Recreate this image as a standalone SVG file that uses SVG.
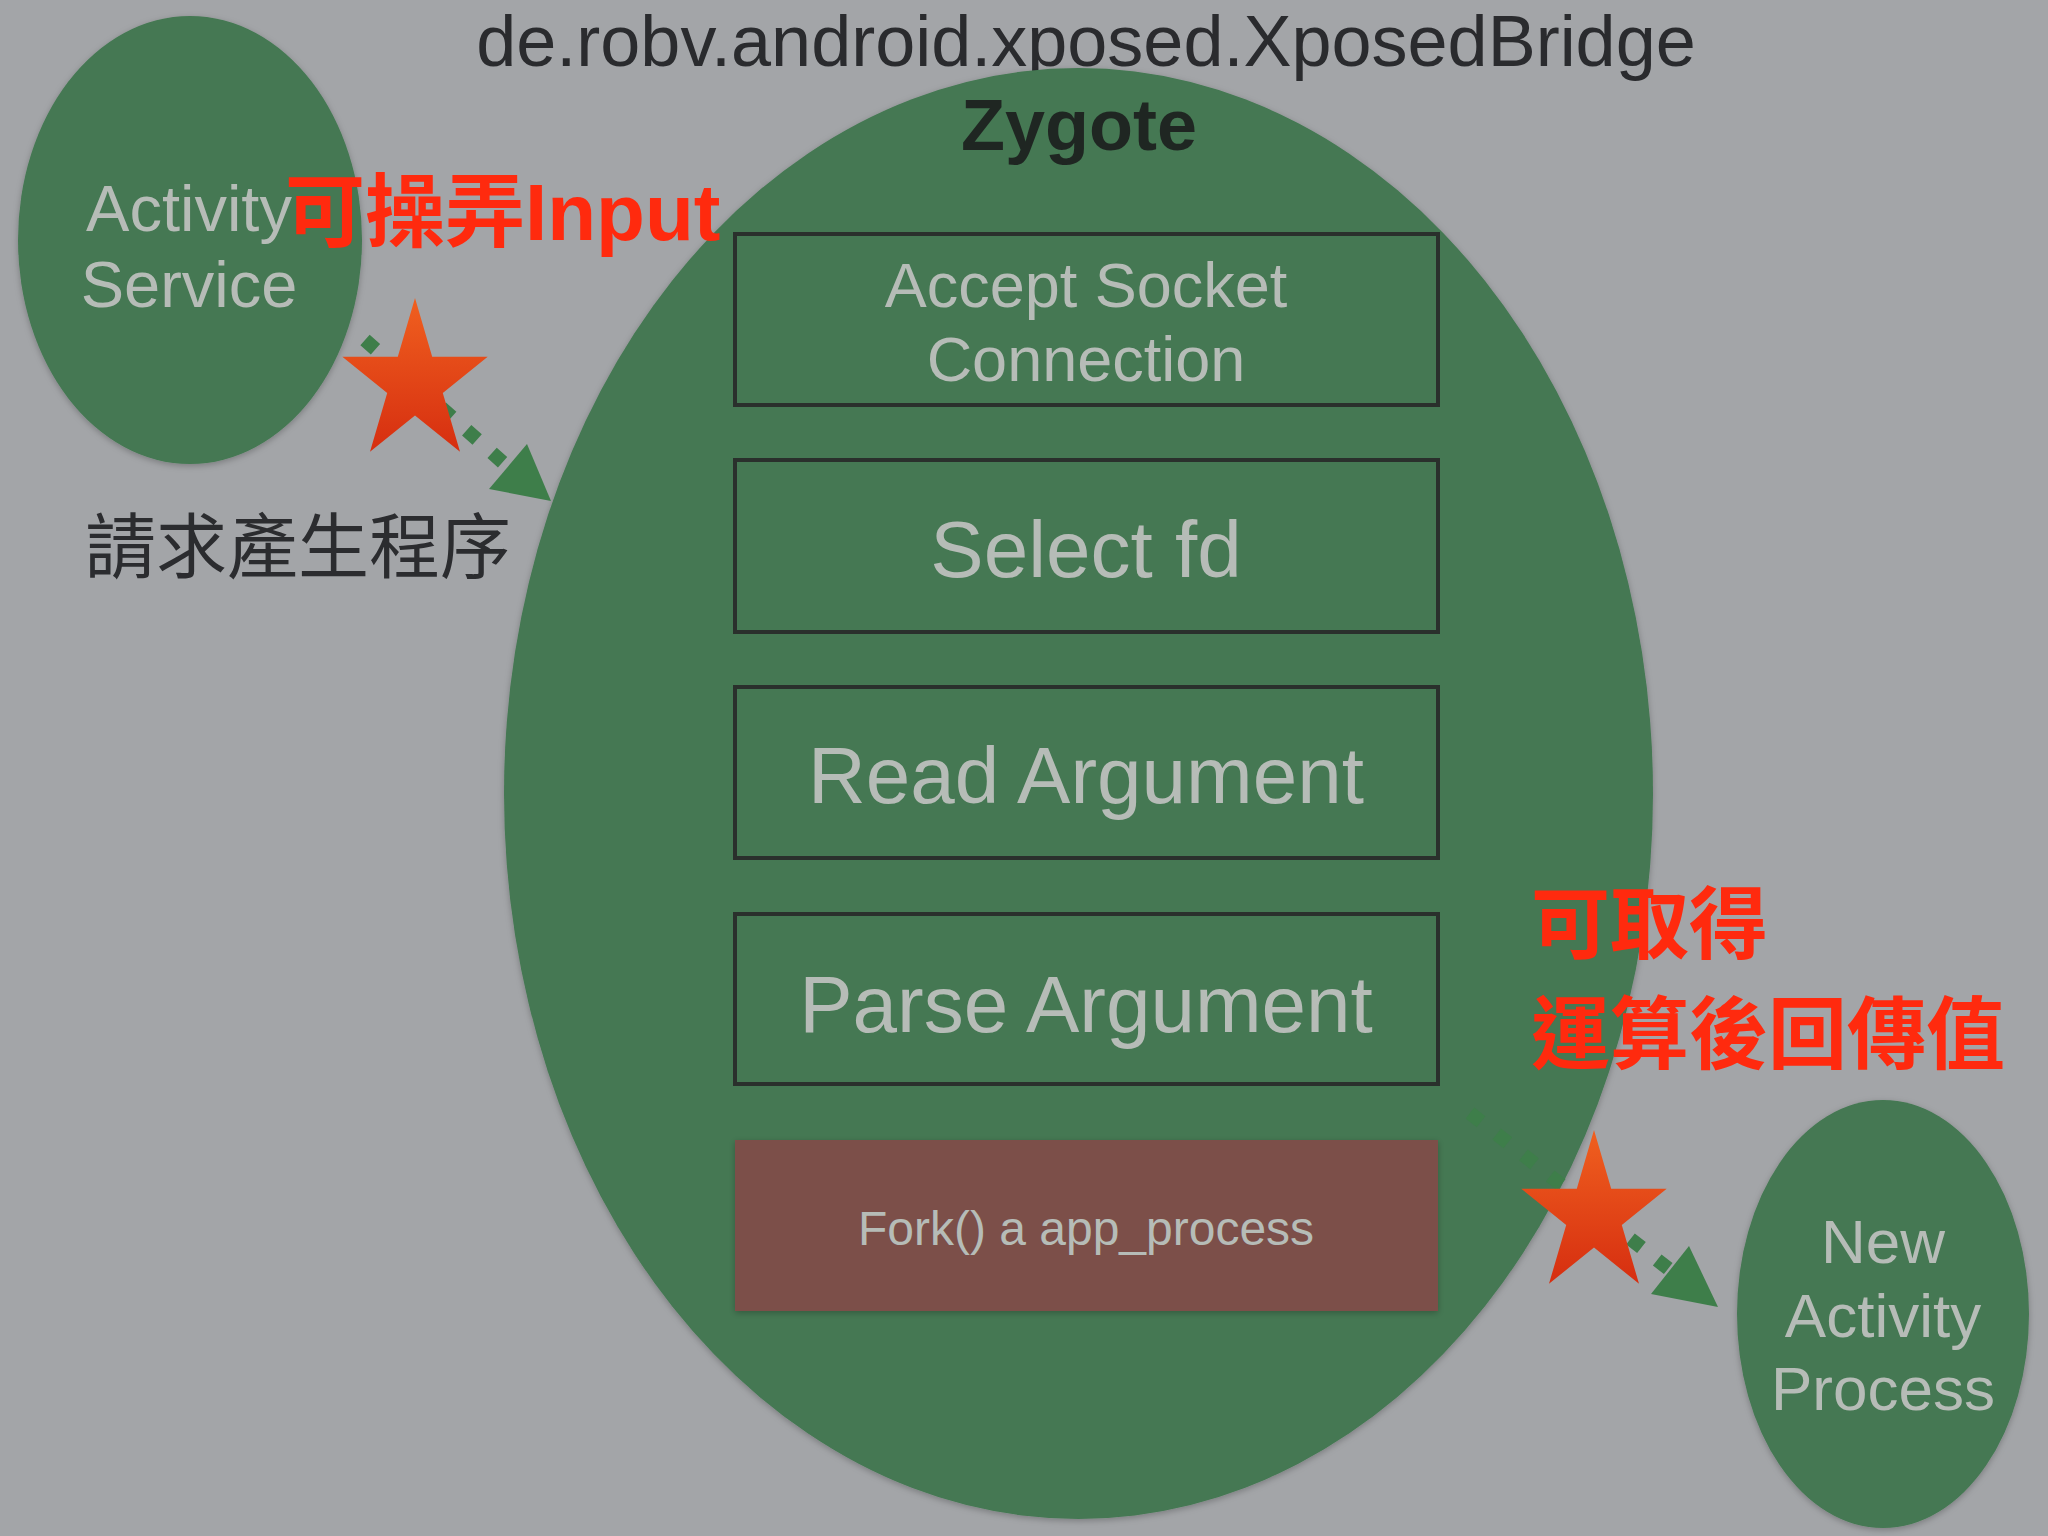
<svg xmlns="http://www.w3.org/2000/svg" width="2048" height="1536" viewBox="0 0 2048 1536">
<defs>
<style>
.bg{fill:#a3a5a8}
.ell{fill:#447852}
.box{fill:none;stroke:#2a302c;stroke-width:4}
.fork{fill:#7c4f4a}
.lt{font-family:"Liberation Sans",Arial,sans-serif;fill:#b6bcb7;text-anchor:middle}
.title{font-family:"Liberation Sans",Arial,sans-serif;fill:#2a2b2e;font-size:72px;text-anchor:middle}
.zy{font-family:"Liberation Sans",Arial,sans-serif;font-weight:bold;fill:#1f2622;font-size:72px;text-anchor:middle}
.red{font-family:"Liberation Sans","Noto Sans CJK TC",sans-serif;font-weight:bold;fill:#ff2a0e}
.cjk{font-family:"Noto Sans CJK TC","Liberation Sans",sans-serif;fill:#2b2c2f;font-size:71px}
.conn{fill:none;stroke:#3e7e4a;stroke-width:14;stroke-dasharray:14 20}
.head{fill:#3e7e4a}
</style>
<linearGradient id="sg" x1="0" y1="0" x2="0" y2="1">
<stop offset="0" stop-color="#f0601f"/>
<stop offset="1" stop-color="#d62e10"/>
</linearGradient>
<filter id="sh" x="-10%" y="-10%" width="120%" height="120%">
<feDropShadow dx="0" dy="2" stdDeviation="3" flood-color="#000" flood-opacity="0.25"/>
</filter>
<path id="star" d="M0,-85 L17.2,-26.3 L72.7,-26.3 L27.8,10 L45,68.8 L0,32.5 L-45,68.8 L-27.8,10 L-72.7,-26.3 L-17.2,-26.3 Z"/>
</defs>
<rect class="bg" x="0" y="0" width="2048" height="1536"/>
<text class="title" x="1086" y="66">de.robv.android.xposed.XposedBridge</text>

<g id="activity-service">
<ellipse class="ell" cx="190" cy="240" rx="172" ry="224" filter="url(#sh)"/>
<text class="lt" x="189" y="231" font-size="65">Activity</text>
<text class="lt" x="189" y="307" font-size="65">Service</text>
</g>

<g id="zygote">
<ellipse class="ell" cx="1078.5" cy="793.5" rx="574.5" ry="725.5" filter="url(#sh)"/>
<text class="zy" x="1079" y="150">Zygote</text>
</g>

<g id="accept-socket">
<rect class="box" x="735" y="234" width="703" height="171"/>
<text class="lt" x="1086" y="307" font-size="63">Accept Socket</text>
<text class="lt" x="1086" y="381" font-size="63">Connection</text>
</g>
<g id="select-fd">
<rect class="box" x="735" y="460" width="703" height="172"/>
<text class="lt" x="1086" y="577" font-size="80">Select fd</text>
</g>
<g id="read-argument">
<rect class="box" x="735" y="687" width="703" height="171"/>
<text class="lt" x="1086" y="803" font-size="80">Read Argument</text>
</g>
<g id="parse-argument">
<rect class="box" x="735" y="914" width="703" height="170"/>
<text class="lt" x="1086" y="1032" font-size="80">Parse Argument</text>
</g>
<g id="fork">
<rect class="fork" x="735" y="1140" width="703" height="171" filter="url(#sh)"/>
<text class="lt" x="1086" y="1245" font-size="48">Fork() a app_process</text>
</g>

<g id="new-activity-process">
<ellipse class="ell" cx="1883" cy="1314" rx="146" ry="214" filter="url(#sh)"/>
<text class="lt" x="1883" y="1263" font-size="62">New</text>
<text class="lt" x="1883" y="1337" font-size="62">Activity</text>
<text class="lt" x="1883" y="1410" font-size="62">Process</text>
</g>

<g id="connectors">
<line class="conn" x1="365" y1="340" x2="508" y2="467"/>
<polygon class="head" points="489,489 527,444 551,501"/>
<line class="conn" x1="1470" y1="1113" x2="1670" y2="1270"/>
<polygon class="head" points="1651,1294 1689,1246 1718,1307"/>
</g>

<g id="stars">
<use href="#star" transform="translate(415,383)" fill="url(#sg)"/>
<use href="#star" transform="translate(1594,1215)" fill="url(#sg)"/>
</g>

<g id="labels">
<text class="red" x="285" y="240" font-size="80">可操弄Input</text>
<text class="cjk" x="85" y="572">請求產生程序</text>
<text class="red" x="1531" y="953" font-size="79">可取得</text>
<text class="red" x="1531" y="1063" font-size="79">運算後回傳值</text>
</g>
</svg>
